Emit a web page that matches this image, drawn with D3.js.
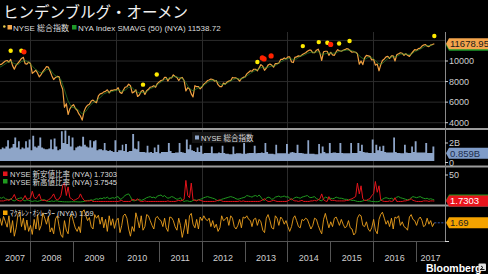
<!DOCTYPE html>
<html>
<head>
<meta charset="utf-8">
<script src="https://cdn.jsdelivr.net/npm/d3@7"></script>
<style>
html,body{margin:0;padding:0;background:#000;overflow:hidden}
svg{display:block;font-family:"Liberation Sans","Noto Sans CJK JP",sans-serif}
</style>
</head>
<body>
<svg id="chart"></svg>
<script>
// board size
var svg_w = 488, svg_h = 274;
var plot_r = 445; // right axis line

// ---- data (semi-monthly points: 20th and 5th, from 2007-04-20) ----
var price = [
  9650,9700,9850,10000,10050,9900,10150,9550,9200,9600,9800,10000,10250,10350,9750,9700,9900,9740,
  8800,8950,9100,8800,8450,8700,9000,9200,9450,9400,9000,8550,8200,8400,8500,8450,7700,7250,5500,5850,4800,5350,5600,5760,
  5400,5200,4850,4650,4250,5100,5500,5700,5800,6100,6200,6050,5950,6600,6800,6850,7000,7050,7200,6900,7150,7150,7200,7185,
  7400,6950,6850,7150,7450,7500,7750,7600,6900,7000,7200,6550,6700,7050,7150,6750,7100,7250,7450,7500,7600,7450,7800,7965,
  8100,8150,8400,8400,8050,8350,8350,8650,8500,8400,8100,8350,8400,8100,7100,7400,7300,6800,6500,7600,7500,7500,7300,7480,
  7750,7900,8100,8150,8250,8200,8050,8100,7700,7500,7500,7850,7750,7950,8050,8100,8400,8350,8350,8250,8050,8300,8400,8450,
  8750,8900,9050,9000,9200,9200,9050,9350,9650,9500,9100,9300,9600,9700,9600,9400,9750,9750,9800,10150,10150,10300,10200,10400,
  10400,9900,9850,10350,10400,10500,10450,10600,10700,10800,10950,11050,11050,10800,10800,11050,11150,10750,10050,10900,10950,10950,10550,10850,
  10600,10550,10900,11100,11000,10950,11050,11100,11200,11150,11000,10850,10900,10850,10700,9700,10000,9650,10300,10550,10500,10450,10100,10150,
  9600,9700,9050,9600,10050,10200,10400,10450,10250,10500,10500,10000,10600,10700,10800,10750,10550,10700,10550,10450,10700,10900,11100,11050,
  11200,11250,11450,11550,11600,11450,11400,11550,11600,11678.95
];
// NYA Index SMAVG(50), monthly on the 20th from 2007-04
var sma = [
  9400,9600,9850,9950,9750,9650,9950,10050,9900,
  9500,9150,8900,8850,9150,9200,8700,8450,8200,7200,6100,5500,
  5450,5200,4850,5100,5600,5950,6150,6450,6800,6950,7000,7100,
  7200,7050,7150,7450,7400,7050,6900,6950,7000,7300,7450,7700,
  7950,8200,8300,8400,8500,8400,8300,7900,7300,7100,7300,7450,
  7650,7900,8100,8150,7950,7700,7750,7950,8150,8300,8250,8300,
  8550,8800,9000,9150,9350,9350,9400,9500,9550,9800,10000,10200,
  10250,10150,10200,10450,10550,10750,10850,10850,10900,10650,10700,10800,
  10750,10800,10950,11000,11050,11050,10950,10700,10350,10150,10350,10350,
  10050,9700,9750,10100,10350,10400,10450,10650,10700,10650,10650,10900,
  11050,11250,11450,11500,11538.72
];
// volume, billions of shares
var volume = [
  1.3,1.5,1.4,1.6,2.3,1.4,1.5,1.9,2.6,1.5,2.2,1.3,1.5,1.4,2.2,1.5,2.4,1.2,
  2.8,1.6,1.5,1.7,2.6,1.5,1.4,1.3,1.3,1.4,2.4,1.3,2.5,1.6,1.2,1.3,3.3,2.0,3.4,1.9,2.8,1.6,2.6,1.2,
  1.5,1.6,1.7,1.6,2.7,1.8,1.6,1.5,2.3,1.5,2.2,2.3,1.2,1.3,1.3,1.2,2.0,1.2,1.1,1.2,1.1,1.0,2.3,1.0,
  1.2,1.2,1.8,1.1,1.9,1.0,1.1,1.1,3.0,1.4,1.3,2.2,1.0,1.0,1.0,0.95,1.7,0.95,1.0,0.9,1.5,1.0,1.8,0.85,
  1.0,1.0,1.0,1.0,2.0,1.1,0.9,0.9,0.95,0.95,2.0,1.0,0.95,0.9,2.4,1.3,1.8,1.2,1.1,1.0,1.5,1.0,1.7,0.8,
  0.9,0.9,0.9,0.9,1.6,0.85,0.85,0.85,0.95,0.9,1.7,0.9,0.8,0.8,0.75,0.75,1.6,0.8,0.85,0.85,0.85,0.8,2.0,0.8,
  0.85,0.9,0.9,0.9,1.7,0.85,0.9,0.9,0.95,0.9,2.0,1.0,0.8,0.8,0.8,0.75,1.8,0.85,0.85,0.85,0.85,0.85,1.9,0.8,
  0.95,1.0,0.95,0.9,1.8,0.9,0.9,0.85,0.8,0.8,2.3,0.8,0.8,0.8,0.75,0.75,1.9,0.85,1.6,1.0,0.85,0.85,2.0,0.9,
  0.95,0.95,0.9,0.9,2.0,0.9,0.85,0.85,0.85,0.85,2.0,0.9,0.9,0.9,2.0,1.1,1.8,1.0,0.95,0.95,0.9,0.9,2.4,0.9,
  1.8,1.2,1.6,1.1,1.7,1.0,0.95,0.95,0.95,0.95,2.6,1.0,0.9,0.9,0.85,0.85,1.8,0.95,0.9,0.9,1.6,1.0,2.2,0.95,
  0.95,0.95,0.95,0.95,2.0,0.9,0.9,0.9,1.6,0.859
];
// new lows ratio (%)
var new_lows = [
  2,2,2,3,4,3,5,8,14,5,3,2,2,6,12,5,6,8,
  20,8,6,10,15,4,3,3,2,4,6,10,15,6,4,6,12,30,35,12,28,8,6,3,
  4,6,8,15,8,3,2,2,2,3,1,1,1,1,1,1,1,1,1,1,1,1,1,1,
  1,2,3,1,1,1,1,1,5,4,3,6,2,1,1,2,1,1,1,1,1,1,1,1,
  1,1,1,1,2,1,1,1,1,2,3,2,3,5,40,12,8,35,4,3,2,4,3,2,
  1,1,1,1,1,1,1,2,3,4,2,1,1,1,1,1,1,1,1,1,2,1,2,1,
  1,1,1,1,1,1,1,1,2,4,6,3,1,1,2,3,2,1,1,1,1,1,1,2,
  4,6,3,2,2,1,2,3,1,1,1,1,2,2,3,2,4,6,15,4,2,1,10,3,
  3,3,2,2,2,2,2,2,3,3,5,6,8,10,35,15,30,6,3,3,5,6,12,15,
  38,18,30,4,2,1,1,1,2,1,2,8,1,1,1,1,2,2,3,4,6,3,2,1,
  1,1,1,2,2,2,1,2,2,1.7303
];
// new highs ratio (%)
var new_highs = [
  8,7,9,6,5,4,6,3,2,4,6,7,8,3,2,4,3,2,
  1,2,2,1,2,3,4,4,2,1,1,2,1,2,2,1,1,0.5,0.3,0.3,0.2,0.3,0.5,0.5,
  0.5,0.3,0.2,0.2,0.5,1,2,3,3,4,3,5,6,5,7,6,8,7,9,6,7,8,7,9,
  10,5,6,9,12,14,15,10,3,2,3,4,5,3,4,6,8,9,10,8,9,7,11,12,
  13,10,12,9,7,8,10,9,7,5,6,8,3,1,2,2,1,1,3,4,3,4,5,6,
  8,9,10,9,8,7,6,4,2,3,5,6,7,8,9,10,9,8,6,5,6,7,8,9,
  12,11,10,9,11,12,10,13,9,4,3,7,9,8,5,6,9,10,11,9,10,11,9,10,
  7,4,6,8,9,8,7,9,10,11,12,9,8,9,10,6,5,3,2,6,9,8,5,7,
  6,7,9,8,7,7,6,5,5,4,4,3,3,2,1,1,1,2,3,3,2,2,1,1,
  0.5,0.5,1,3,5,7,8,7,6,7,5,6,9,10,8,7,6,5,4,5,8,10,9,8,
  9,10,8,7,6,7,5,6,5,3.7545
];
// McClellan oscillator
var mcclellan = [
  40,-20,55,10,-35,60,-80,20,-110,-40,70,95,-30,40,-60,25,-70,-20,
  -95,30,-50,70,-60,-20,85,40,-10,55,-75,-40,-90,35,60,-30,-100,-120,20,-60,-90,45,70,10,
  -40,-70,-30,-80,90,110,60,20,45,-30,-50,70,40,65,-10,50,-40,30,-70,60,-20,35,-45,20,
  40,-80,-20,60,75,40,-50,-110,-30,-70,85,30,-40,60,-60,-30,70,60,20,-20,-50,40,55,30,
  20,-30,40,-40,-70,50,45,20,-30,-60,40,-20,-120,-50,30,-90,60,80,-10,-40,30,-50,50,20,
  60,30,20,40,-30,20,-40,-10,-70,-40,60,20,30,50,-20,60,40,-30,-50,-20,30,-40,50,40,
  60,30,20,-30,30,40,-20,30,10,-60,-80,40,70,20,-40,-50,60,40,-20,50,30,-10,20,-30,
  -70,-30,40,60,20,-30,-40,30,20,40,30,-10,-50,-20,40,30,-20,-60,-90,30,80,20,-40,10,
  -30,40,50,20,-20,30,-10,-40,-30,20,-40,-50,-100,-80,40,70,60,-20,-30,10,-50,-70,-40,30,
  -60,-90,30,70,90,40,-10,20,-30,40,-50,50,40,60,-20,10,-30,-40,-60,50,70,30,20,-20,
  30,50,20,-30,-20,40,-10,20,-30,1.69
];
// Hindenburg omen signals
var omen_dates = ["2007-07-20","2007-10-19","2007-11-10","2010-08-20","2010-12-15","2013-04-20","2013-06-01","2013-06-16","2013-08-15",
  "2014-05-12","2014-09-25","2014-12-07","2015-01-04","2015-03-17","2015-06-14","2017-06-05"];
var omen_level = [10990,10990,10890,7700,8690,9900,10300,10200,10490,11450,11840,11770,11610,11700,11940,12430];
var omen_red = [0,0,1,0,0,0,1,1,1,0,0,0,1,0,0,0];

var years = [2007,2008,2009,2010,2011,2012,2013,2014,2015,2016,2017];
var price_ticks = [4000,6000,8000,10000,12000];
var price_labels = [4000,6000,8000,10000];

var parseDay = d3.timeParse("%Y-%m-%d");
// i-th semi-monthly point date
function point_date(i){
  var k = i + 1;
  return new Date(2007, 3 + Math.floor(k/2), k % 2 == 0 ? 5 : 20);
}

var svg = d3.select("#chart").attr("width", svg_w).attr("height", svg_h);
svg.append("rect").attr("width", svg_w).attr("height", svg_h).attr("fill", "#000");

var x_scale = d3.scaleTime().domain([new Date(2007,3,20), new Date(2017,8,4)]).range([0, plot_r]);
var y_main = d3.scaleLinear().domain([4000,10000]).range([122.7,61]);
var y_vol = d3.scaleLinear().domain([0,2]).range([161,143]);
var y_ratio = d3.scaleLinear().domain([0,50]).range([202,175]);
var y_osc = d3.scaleLinear().domain([-100,100]).range([235,211]);

// grid
var grid = svg.append("g");
price_ticks.forEach(function(t){
  grid.append("line").attr("x1",0).attr("x2",plot_r).attr("y1",y_main(t)).attr("y2",y_main(t))
    .attr("stroke","#2b2b2b").attr("stroke-width",1);
});
[2008,2010,2012,2014,2016].forEach(function(yr){
  var x = Math.round(x_scale(new Date(yr,0,1))) + 0.5;
  grid.append("line").attr("x1",x).attr("x2",x).attr("y1",32).attr("y2",241)
    .attr("stroke","#2b2b2b");
});

// title + legend
svg.append("text").attr("x",3).attr("y",18).attr("font-size",15.5).attr("fill","#f2f2f2")
  .attr("font-family","Noto Sans CJK JP").text("ヒンデンブルグ・オーメン");
svg.append("circle").attr("cx",4.3).attr("cy",26.5).attr("r",1.3).attr("fill","#e6c84a");
svg.append("rect").attr("x",7.5).attr("y",25).attr("width",4.5).attr("height",4.5).attr("fill","#f5a64a");
svg.append("text").attr("x",13).attr("y",30.5).attr("font-size",8).attr("fill","#ddd").text("NYSE 総合指数");
svg.append("rect").attr("x",72).attr("y",25).attr("width",4.5).attr("height",4.5).attr("fill","#1e9a2a");
svg.append("text").attr("x",78).attr("y",30.5).attr("font-size",8).attr("fill","#ddd").text("NYA Index SMAVG (50) (NYA) 11538.72");

// main panel
var price_line = d3.line().x(function(d,i){return x_scale(point_date(i));}).y(function(d){return y_main(d);});
svg.append("path").datum(price).attr("d",price_line).attr("fill","none")
  .attr("stroke","#f0a040").attr("stroke-width",1.2).attr("stroke-linejoin","round");
var sma_line = d3.line().x(function(d,i){return x_scale(new Date(2007,3+i,20));}).y(function(d){return y_main(d);});
svg.append("path").datum(sma).attr("d",sma_line).attr("fill","none")
  .attr("stroke","#2f8f2f").attr("stroke-width",0.7).attr("opacity",0.9);

omen_dates.forEach(function(d,i){
  svg.append("circle").attr("cx",x_scale(parseDay(d))).attr("cy",y_main(omen_level[i]))
    .attr("r",omen_red[i] ? 2.6 : 2.2).attr("fill",omen_red[i] ? "#ff2200" : "#ffea00");
});

// volume panel
var vol_area = d3.area().curve(d3.curveStepAfter)
  .x(function(d,i){return x_scale(point_date(i));})
  .y0(y_vol(0)).y1(function(d){return y_vol(d);});
svg.append("path").datum(volume).attr("d",vol_area).attr("fill","#8ea5c8");
var vleg = svg.append("g");
vleg.append("rect").attr("x",192).attr("y",132).attr("width",60).attr("height",11).attr("fill","#161616").attr("opacity",0.9);
vleg.append("rect").attr("x",195).attr("y",135.5).attr("width",4).attr("height",4).attr("fill","#8ea5c8");
vleg.append("text").attr("x",201).attr("y",140.5).attr("font-size",7.5).attr("fill","#ddd").text("NYSE 総合指数");

// ratio panel
var ratio_line = d3.line().x(function(d,i){return x_scale(point_date(i));}).y(function(d){return y_ratio(d);});
svg.append("path").datum(new_highs).attr("d",ratio_line).attr("fill","none").attr("stroke","#1f9a1f").attr("stroke-width",1);
svg.append("path").datum(new_lows).attr("d",ratio_line).attr("fill","none").attr("stroke","#e3141b").attr("stroke-width",1);
svg.append("rect").attr("x",3).attr("y",171.5).attr("width",4.5).attr("height",4.5).attr("fill","#e3141b");
svg.append("text").attr("x",10).attr("y",177).attr("font-size",7.5).attr("fill","#ddd").text("NYSE 新安値比率 (NYA) 1.7303");
svg.append("rect").attr("x",3).attr("y",179).attr("width",4.5).attr("height",4.5).attr("fill","#1f9a1f");
svg.append("text").attr("x",10).attr("y",184.5).attr("font-size",7.5).attr("fill","#ddd").text("NYSE 新高値比率 (NYA) 3.7545");

// oscillator panel
var osc_line = d3.line().x(function(d,i){return x_scale(point_date(i));}).y(function(d){return y_osc(d);});
svg.append("path").datum(mcclellan).attr("d",osc_line).attr("fill","none")
  .attr("stroke","#eea21e").attr("stroke-width",0.9).attr("stroke-linejoin","round");
svg.append("rect").attr("x",3).attr("y",210.5).attr("width",4.5).attr("height",4.5).attr("fill","#f5a300");
svg.append("text").attr("x",10).attr("y",216).attr("font-size",7.5).attr("fill","#ddd").text("ﾏｸﾗﾚﾝ･ｵｼﾚｰﾀｰ (NYA) 1.69");
var last_osc = mcclellan[mcclellan.length-1];
svg.append("line").attr("x1",x_scale(point_date(mcclellan.length-1))).attr("x2",plot_r)
  .attr("y1",y_osc(last_osc)).attr("y2",y_osc(last_osc))
  .attr("stroke","#3358b0").attr("stroke-dasharray","2,1.5");

// panel separators
[129,166.5,205.5].forEach(function(y){
  svg.append("line").attr("x1",0).attr("x2",svg_w).attr("y1",y).attr("y2",y)
    .attr("stroke","#9c9c9c").attr("stroke-width",2);
});

// right axis
svg.append("line").attr("x1",plot_r+0.5).attr("x2",plot_r+0.5).attr("y1",32).attr("y2",241.5)
  .attr("stroke","#8a8a8a");
function axis_label(y,txt){
  svg.append("line").attr("x1",plot_r).attr("x2",plot_r+3).attr("y1",y).attr("y2",y).attr("stroke","#ccc");
  svg.append("text").attr("x",plot_r+4).attr("y",y+3.2).attr("font-size",9).attr("fill","#cfcfcf").text(txt);
}
price_labels.forEach(function(t){ axis_label(y_main(t), t); });
axis_label(y_vol(2),"2B");
axis_label(y_vol(0)+1.5,"0");
axis_label(y_ratio(50),"50");

// last-value tags; the hidden ones behind are drawn as bare tags
function value_tag(y,fill){
  return svg.append("g").attr("transform","translate("+(plot_r+1)+","+y+")")
    .call(function(g){ g.append("path").attr("d","M0,0 L3,-5.5 L43,-5.5 L43,5.5 L3,5.5 Z").attr("fill",fill); });
}
function value_box(y,txt,fill,color){
  var g = value_tag(y,fill);
  g.append("text").attr("x",4).attr("y",3.4).attr("font-size",9.5).attr("fill",color).text(txt);
}
value_tag(y_main(sma[sma.length-1]),"#1e9a2a");
value_box(y_main(price[price.length-1]),"11678.95","#f4a54c","#1a1a1a");
value_box(y_vol(volume[volume.length-1]),"0.859B","#7f9cc8","#1c2c4c");
value_tag(y_ratio(new_highs[new_highs.length-1]),"#1f9a1f");
value_box(y_ratio(new_lows[new_lows.length-1]),"1.7303","#e8141c","#fff");
value_box(y_osc(last_osc),"1.69","#f5a300","#222");

// bottom time axis
svg.append("line").attr("x1",0).attr("x2",plot_r).attr("y1",241.5).attr("y2",241.5).attr("stroke","#555");
svg.append("line").attr("x1",plot_r).attr("x2",plot_r+4).attr("y1",241.5).attr("y2",241.5).attr("stroke","#ddd");
years.forEach(function(yr){
  var x0 = Math.max(0, x_scale(new Date(yr,0,1)));
  var x1 = Math.min(plot_r, x_scale(new Date(yr+1,0,1)));
  if(yr > 2007){
    var xl = Math.round(x0) + 0.5;
    svg.append("line").attr("x1",xl).attr("x2",xl).attr("y1",241.5).attr("y2",262).attr("stroke","#555");
  }
  svg.append("text").attr("x",(x0+x1)/2).attr("y",261).attr("text-anchor","middle")
    .attr("font-size",9).attr("fill","#cfcfcf").text(yr);
});

// Bloomberg mark
svg.append("text").attr("x",426).attr("y",271.5).attr("font-size",10.5).attr("font-weight","bold")
  .attr("fill","#fff").text("Bloomberg");
svg.append("rect").attr("x",478.5).attr("y",263.5).attr("width",7.5).attr("height",7.5).attr("rx",1).attr("fill","#e0e0e0");
svg.append("path").attr("d","M480,269.5 L484.5,269.5 M481,266 L483,267.5 L481,269").attr("stroke","#000").attr("stroke-width",0.9).attr("fill","none");
</script>
</body>
</html>
